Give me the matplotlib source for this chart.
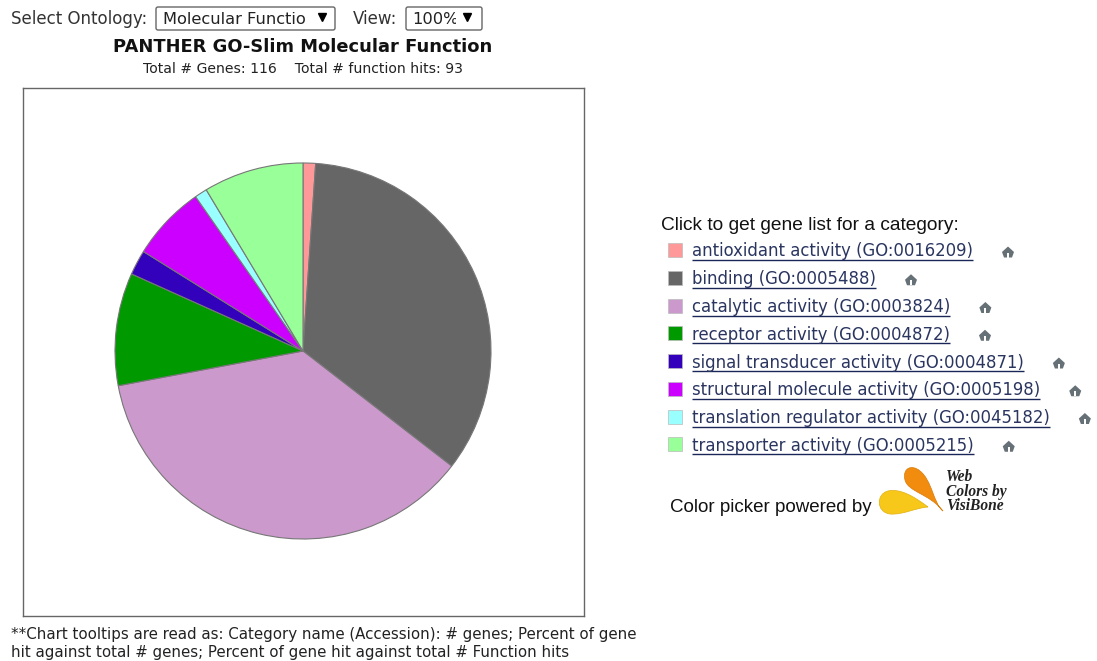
import matplotlib
matplotlib.use('Agg')
from matplotlib import pyplot as plt
from matplotlib.patches import PathPatch, Polygon, Rectangle, FancyBboxPatch
from matplotlib.path import Path

categories = ['antioxidant activity (GO:0016209)', 'binding (GO:0005488)',
              'catalytic activity (GO:0003824)', 'receptor activity (GO:0004872)',
              'signal transducer activity (GO:0004871)', 'structural molecule activity (GO:0005198)',
              'translation regulator activity (GO:0045182)', 'transporter activity (GO:0005215)']
hits = [1, 32, 34, 9, 2, 6, 1, 8]
colors = ['#ff9999', '#666666', '#cc99cc', '#009900', '#3300bb', '#cc00ff', '#99ffff', '#99ff99']

W, H = 1097, 661
fig = plt.figure(figsize=(W / 100, H / 100), dpi=100)

# full figure overlay, works in pixels of the reference
bg = fig.add_axes([0, 0, 1, 1])
bg.set_xlim(0, W)
bg.set_ylim(H, 0)
bg.axis('off')

# pie inside the framed box
ax = fig.add_axes([23 / W, 1 - 616 / H, 561 / W, 528 / H])
ax.pie(hits, colors=colors, startangle=90, counterclock=False, radius=188, center=(0, 0), frame=True,
       wedgeprops={'edgecolor': '#777777', 'linewidth': 0.8})
ax.set_xlim(23 - 303, 584 - 303)
ax.set_ylim(351 - 616, 351 - 88)
ax.set_xticks([])
ax.set_yticks([])
for s in ax.spines.values():
    s.set_color('#666666')
    s.set_linewidth(1.0)

ui = 'DejaVu Sans'
dark = '#222222'

# top controls
bg.text(11, 19, 'Select Ontology:', fontsize=12, family=ui, color='#333333', va='center')
bg.text(353, 19, 'View:', fontsize=12, family=ui, color='#333333', va='center')
bg.add_patch(FancyBboxPatch((156, 7), 179, 23, boxstyle='round,pad=0,rounding_size=2',
                            fc='white', ec='#666666', lw=1))
bg.add_patch(FancyBboxPatch((406, 7), 76, 23, boxstyle='round,pad=0,rounding_size=2',
                            fc='white', ec='#666666', lw=1))
bg.text(163, 19, 'Molecular Functio', fontsize=11.7, family=ui, color=dark, va='center')
bg.text(412, 19, '100%', fontsize=11.7, family=ui, color=dark, va='center')
bg.add_patch(Rectangle((456, 8), 25, 21, fc='white', ec='none', zorder=3))
bg.plot([322, 467], [17, 17], ls='none', marker='v', ms=5.5, color='black', zorder=4)

bg.text(303, 47, 'PANTHER GO-Slim Molecular Function', fontsize=12.9, family=ui, fontweight='bold',
        color='#111111', ha='center', va='center')
bg.text(303, 69, 'Total # Genes: 116    Total # function hits: 93', fontsize=10.1, family=ui, color=dark,
        ha='center', va='center')

bg.text(11, 635, '**Chart tooltips are read as: Category name (Accession): # genes; Percent of gene',
        fontsize=10.8, family=ui, color=dark, va='center')
bg.text(11, 652, 'hit against total # genes; Percent of gene hit against total # Function hits',
        fontsize=10.8, family=ui, color=dark, va='center')

# legend
bg.text(661, 225, 'Click to get gene list for a category:', fontsize=13.8, family='Liberation Sans',
        color='#111111', va='center')

fig.canvas.draw()
rend = fig.canvas.get_renderer()
for i, (name, c) in enumerate(zip(categories, colors)):
    y = 251.5 + i * 27.75
    bg.add_patch(Rectangle((668, y - 8.5), 14, 14, fc=c, ec='#bbbbbb', lw=0.5))
    t = bg.text(692, y, name, fontsize=11.9, family=ui, color='#2a3560', va='center')
    end = t.get_window_extent(rend).x1
    bg.plot([692, end], [y + 8.5, y + 8.5], color='#1a2558', lw=1, solid_capstyle='butt')
    # little house icon
    ix = end + 35
    bg.add_patch(Polygon([(ix - 6, y + 0.5), (ix, y - 5), (ix + 6, y + 0.5), (ix + 4, y + 6), (ix - 4, y + 6)],
                         fc='#667077', ec='none'))
    bg.add_patch(Rectangle((ix - 1, y + 1), 2, 5, fc='white', ec='none'))

bg.text(670, 507, 'Color picker powered by', fontsize=13.5, family='Liberation Sans', color='#111111',
        va='center')

# logo drops
codes = [Path.MOVETO] + [Path.CURVE4] * 9
drop1 = Path([(943, 511), (934, 505), (932, 480), (920, 471), (912, 464), (902, 468), (905, 480),
              (908, 492), (930, 494), (943, 511)], codes)
bg.add_patch(PathPatch(drop1, fc='#f28c0f', ec='#d87a08', lw=0.5))
drop2 = Path([(928, 507), (915, 497), (900, 488), (888, 491), (876, 494), (876, 512), (890, 514),
              (903, 515), (915, 508), (928, 507)], codes)
bg.add_patch(PathPatch(drop2, fc='#f7c81a', ec='#e0b010', lw=0.5))
for y, s in zip([477, 491.5, 506], ['Web', 'Colors by', 'VisiBone']):
    bg.text(946, y, s, fontsize=11.2, family='Liberation Serif', fontweight='bold', style='italic',
            color='#222222', va='center')

fig.savefig('out.png', dpi=100)
